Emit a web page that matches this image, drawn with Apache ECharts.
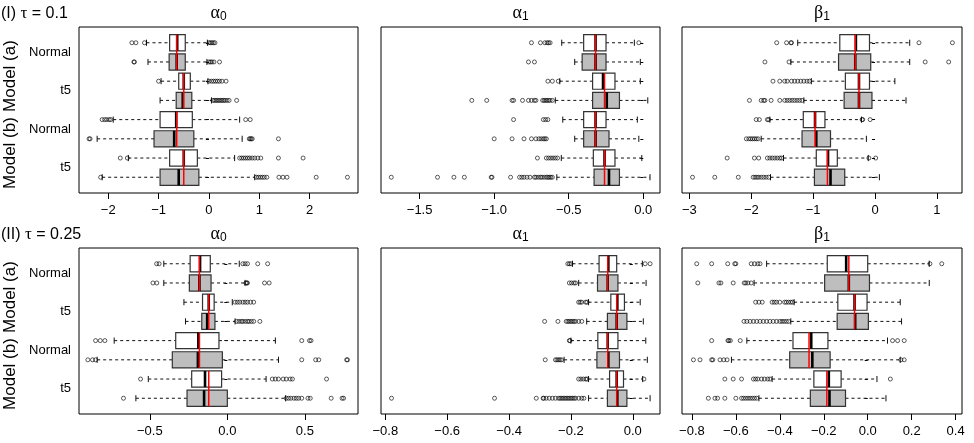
<!DOCTYPE html>
<html><head><meta charset="utf-8">
<script src="https://cdn.jsdelivr.net/npm/echarts@6/dist/echarts.min.js"></script>
<style>html,body{margin:0;padding:0;background:#fff}#c{width:974px;height:443px}</style>
</head><body><div id="c"></div>
<script>
// ---------- DATA ----------
// each box: [lower whisker, Q1, median, Q3, upper whisker]; rows 1..8 top to bottom
const rowLabels = ['Normal', 't5', 'Normal', 't5'];
const modelLabels = ['Model (a)', 'Model (b)'];
const tauLabels = ['(I) ', '(II) '];
const tauValues = [' = 0.1', ' = 0.25'];
const paramSymbols = ['α', 'α', 'β'];
const paramSubs = ['0', '1', '1'];

// tau = 0.1, alpha0
const a0t1Box = [[-1.24,-0.78,-0.63,-0.47,-0.03],[-1.21,-0.79,-0.64,-0.47,-0.04],[-0.95,-0.60,-0.50,-0.37,-0.02],[-0.97,-0.65,-0.52,-0.34,0.05],
  [-1.90,-0.97,-0.65,-0.33,0.61],[-2.22,-1.09,-0.69,-0.30,0.66],[-1.60,-0.78,-0.50,-0.23,0.51],[-2.12,-0.97,-0.60,-0.20,0.91]];
const a0t1Out = [[-1.53,-1.45,-1.28,0.0,0.03,0.06,0.09,0.12],[-1.49,-1.48,0.0,0.03,0.06,0.10,0.21],[-1.0,0.0,0.05,0.09,0.13,0.17,0.21,0.26,0.34],
  [0.08,0.11,0.14,0.17,0.2,0.23,0.26,0.29,0.32,0.36,0.40,0.55],[-2.12,-2.07,-2.03,-1.98,-1.95,0.73,0.82],[-2.38,-2.36,0.80,0.82,0.84,0.86,1.38],
  [-1.76,-1.62,0.61,0.65,0.69,0.73,0.77,0.81,0.86,0.91,0.97,1.03,1.38,1.87],[-2.15,0.94,0.98,1.02,1.06,1.10,1.15,1.39,1.47,1.55,2.13,2.75]];
const a0t1True = [-0.64,-0.50,-0.64,-0.50];
const a0t1Ticks = [-2,-1,0,1,2];

// tau = 0.1, alpha1
const a1t1Box = [[-0.547,-0.40,-0.32,-0.25,-0.06],[-0.46,-0.41,-0.32,-0.25,-0.02],[-0.56,-0.34,-0.27,-0.19,-0.02],[-0.59,-0.34,-0.245,-0.16,0.03],
  [-0.54,-0.40,-0.32,-0.25,-0.04],[-0.46,-0.40,-0.32,-0.23,-0.03],[-0.55,-0.335,-0.26,-0.19,-0.01],[-0.58,-0.33,-0.23,-0.16,0.045]];
const a1t1Out = [[-0.75,-0.69,-0.66,-0.645,-0.635,-0.625,-0.03],[-0.77,-0.73],[-0.64,-0.61,-0.57],
  [-1.15,-1.05,-0.88,-0.87,-0.81,-0.77,-0.75,-0.73,-0.72,-0.675,-0.665,-0.655,-0.645,-0.635,-0.625,-0.61],[-0.87,-0.67,-0.655,-0.64],
  [-1.0,-0.88,-0.80,-0.75,-0.72,-0.70,-0.685,-0.67,-0.66,-0.65],[-0.71,-0.65,-0.635,-0.62,-0.605,-0.59,-0.575],
  [-1.69,-1.38,-1.27,-1.20,-1.02,-1.015,-0.89,-0.83,-0.815,-0.80,-0.78,-0.76,-0.73,-0.72,-0.705,-0.69,-0.68,-0.665,-0.65,-0.64,-0.63,-0.62,-0.61]];
const a1t1True = [-0.32,-0.26,-0.32,-0.26];
const a1t1Ticks = [-1.5,-1.0,-0.5,0.0];

// tau = 0.1, beta1
const b1t1Box = [[-1.25,-0.57,-0.31,-0.09,0.56],[-1.36,-0.59,-0.32,-0.07,0.56],[-1.03,-0.48,-0.26,-0.09,0.32],[-1.15,-0.50,-0.26,-0.05,0.50],
  [-1.70,-1.16,-0.97,-0.81,-0.22],[-1.84,-1.18,-0.95,-0.72,-0.14],[-1.48,-0.95,-0.76,-0.61,-0.11],[-1.69,-0.98,-0.72,-0.49,0.07]];
const b1t1Out = [[-1.59,-1.43,-1.36,-1.35,0.71,1.25],[-1.78,-1.39,0.81,1.19],[-1.65,-1.54,-1.46,-1.42,-1.35,-1.30,-1.25,-1.20,-1.15,-1.10,-1.06],
  [-2.03,-1.84,-1.80,-1.78,-1.68,-1.54,-1.46,-1.42,-1.38,-1.34,-1.30,-1.26,-1.22,-1.18],[-1.92,-1.87,-1.74,-1.72,-0.21,-0.20,-0.08],
  [-2.08,-2.04,-2.01,-1.98,-1.95,-1.92,-1.89],[-2.39,-1.95,-1.88,-1.74,-1.70,-1.66,-1.62,-1.58,-1.54,-1.51,-0.10,0.01],
  [-2.95,-2.59,-2.21,-1.97,-1.94,-1.91,-1.88,-1.84,-1.80,-1.76,-1.72]];
const b1t1True = [-0.32,-0.26,-0.97,-0.77];
const b1t1Ticks = [-3,-2,-1,0,1];

// tau = 0.25, alpha0
const a0t2Box = [[-0.41,-0.24,-0.176,-0.11,0.077],[-0.41,-0.245,-0.18,-0.105,0.114],[-0.28,-0.16,-0.12,-0.085,0.032],[-0.27,-0.165,-0.13,-0.08,0.05],
  [-0.73,-0.333,-0.187,-0.054,0.31],[-0.84,-0.355,-0.19,-0.032,0.33],[-0.51,-0.23,-0.144,-0.037,0.25],[-0.59,-0.26,-0.15,0.0,0.376]];
const a0t2Out = [[-0.456,-0.44,0.10,0.115,0.13,0.196,0.26],[-0.48,-0.455,0.12,0.125,0.13,0.24,0.27],[0.05,0.065,0.08,0.10,0.115,0.13,0.15,0.17],
  [0.06,0.075,0.09,0.10,0.115,0.13,0.14,0.155,0.17,0.21],[-0.85,-0.82,-0.79,0.48,0.53,0.54],[-0.90,-0.87,-0.85,0.48,0.57,0.59,0.77,0.775],
  [-0.56,0.29,0.31,0.33,0.36,0.38,0.405,0.42,0.64],[-0.67,0.38,0.395,0.41,0.43,0.445,0.46,0.48,0.52,0.535,0.67,0.74,0.75]];
const a0t2True = [-0.18,-0.12,-0.18,-0.12];
const a0t2Ticks = [-0.5,0.0,0.5];

// tau = 0.25, alpha1
const a1t2Box = [[-0.195,-0.109,-0.079,-0.052,0.031],[-0.175,-0.114,-0.081,-0.048,0.043],[-0.143,-0.071,-0.05,-0.027,0.024],[-0.149,-0.082,-0.052,-0.019,0.034],
  [-0.20,-0.113,-0.081,-0.048,0.042],[-0.222,-0.116,-0.079,-0.043,0.047],[-0.143,-0.075,-0.052,-0.03,0.032],[-0.143,-0.082,-0.05,-0.019,0.056]];
const a1t2Out = [[-0.21,-0.205,-0.20,0.04,0.056],[-0.205,-0.198,-0.19,-0.185],[-0.175,-0.17,-0.165,-0.152,-0.148],
  [-0.285,-0.242,-0.215,-0.21,-0.205,-0.20,-0.195,-0.19,-0.185,-0.175,-0.165],[-0.205,-0.203],[-0.283,-0.25,-0.245,-0.24,-0.235,-0.23],
  [-0.175,-0.168,-0.16,-0.152,-0.148,0.036],
  [-0.78,-0.447,-0.312,-0.29,-0.288,-0.28,-0.27,-0.26,-0.25,-0.24,-0.235,-0.23,-0.225,-0.22,-0.215,-0.21,-0.205,-0.2,-0.195,-0.19,-0.185,-0.175,-0.165,-0.158]];
const a1t2True = [-0.081,-0.052,-0.081,-0.052];
const a1t2Ticks = [-0.8,-0.6,-0.4,-0.2,0.0];

// tau = 0.25, beta1
const b1t2Box = [[-0.46,-0.184,-0.098,0.0,0.28],[-0.517,-0.196,-0.086,0.008,0.28],[-0.335,-0.136,-0.06,-0.003,0.148],[-0.35,-0.139,-0.057,0.003,0.154],
  [-0.55,-0.34,-0.257,-0.181,0.09],[-0.62,-0.355,-0.252,-0.171,0.148],[-0.435,-0.245,-0.177,-0.121,0.042],[-0.495,-0.261,-0.174,-0.101,0.083]];
const b1t2Out = [[-0.778,-0.71,-0.637,-0.605,-0.60,-0.53,-0.515,-0.50,-0.49,0.283,0.337],[-0.773,-0.677,-0.668,-0.612,-0.562,-0.555,-0.545,-0.53],
  [-0.51,-0.495,-0.48,-0.435,-0.425,-0.415,-0.40,-0.378,-0.37,-0.36,-0.35,-0.342],
  [-0.563,-0.55,-0.535,-0.52,-0.505,-0.49,-0.475,-0.46,-0.445,-0.43,-0.415,-0.40,-0.39,-0.38,-0.37,-0.36],
  [-0.71,-0.636,-0.632,-0.625,-0.58,0.113,0.136,0.166],[-0.793,-0.763,-0.71,-0.705,-0.672,-0.655,-0.64,0.151,0.166],
  [-0.65,-0.612,-0.574,-0.52,-0.51,-0.50,-0.483,-0.47,-0.455,-0.445,0.103],
  [-0.725,-0.695,-0.683,-0.65,-0.60,-0.574,-0.565,-0.555,-0.545,-0.535,-0.525,-0.515,-0.505]];
const b1t2True = [-0.086,-0.06,-0.267,-0.186];
const b1t2Ticks = [-0.8,-0.6,-0.4,-0.2,0.0,0.2,0.4];

// axis ranges (R default: data range + 4%)
const xRanges = [[-2.58,2.96],[-1.759,0.112],[-3.12,1.405],[-0.957,0.843],[-0.814,0.088],[-0.845,0.429]];

// ---------- BUILD ----------
const panelBoxes = [a0t1Box, a1t1Box, b1t1Box, a0t2Box, a1t2Box, b1t2Box];
const panelOut = [a0t1Out, a1t1Out, b1t1Out, a0t2Out, a1t2Out, b1t2Out];
const panelTrue = [a0t1True, a1t1True, b1t1True, a0t2True, a1t2True, b1t2True];
const panelTicks = [a0t1Ticks, a1t1Ticks, b1t1Ticks, a0t2Ticks, a1t2Ticks, b1t2Ticks];
const panelDec = [0, 1, 0, 1, 1, 1];

const colLeft = [79, 381, 682];
const colWidth = [279, 279, 280];
const rowTop = [27, 248];
const plotH = 166;
const BOX_HALF = 0.42, STAPLE_HALF = 0.16;
const FONT = '"Liberation Sans", Arial, Helvetica, sans-serif';
const SERIF = '"Liberation Serif", "DejaVu Serif", serif';

function boxRender(params, api) {
  const r = api.value(0);
  const v = [1,2,3,4,5].map(i => api.value(i));
  const px = v.map(x => api.coord([x, r])[0]);
  const yc = api.coord([v[0], r])[1];
  const hh = Math.abs(api.size([0, BOX_HALF])[1]);
  const sh = Math.abs(api.size([0, STAPLE_HALF])[1]);
  const fill = (r % 2 === 0) ? '#bebebe' : '#ffffff';
  const dash = {stroke: '#111', lineWidth: 1, lineDash: [3, 3]};
  const solid = {stroke: '#111', lineWidth: 1};
  return {type: 'group', children: [
    {type: 'line', shape: {x1: px[0], y1: yc, x2: px[1], y2: yc}, style: dash},
    {type: 'line', shape: {x1: px[3], y1: yc, x2: px[4], y2: yc}, style: dash},
    {type: 'line', shape: {x1: px[0], y1: yc - sh, x2: px[0], y2: yc + sh}, style: solid},
    {type: 'line', shape: {x1: px[4], y1: yc - sh, x2: px[4], y2: yc + sh}, style: solid},
    {type: 'rect', shape: {x: px[1], y: yc - hh, width: px[3] - px[1], height: 2 * hh}, style: {fill: fill, stroke: '#333', lineWidth: 1.2}},
    {type: 'line', shape: {x1: px[2], y1: yc - hh, x2: px[2], y2: yc + hh}, style: {stroke: '#000', lineWidth: 2.6}}
  ]};
}
function trueRender(params, api) {
  const t = api.value(0), k = api.value(1);
  const x = api.coord([t, 2 * k + 1])[0];
  const y1 = api.coord([t, 2 * k + 1 - BOX_HALF])[1];
  const y2 = api.coord([t, 2 * k + 2 + BOX_HALF])[1];
  return {type: 'line', shape: {x1: x, y1: y1, x2: x, y2: y2}, style: {stroke: '#ff0000', lineWidth: 1.5}};
}

const grids = [], xAxes = [], yAxes = [], series = [], graphics = [];
for (let p = 0; p < 6; p++) {
  const col = p % 3, row = Math.floor(p / 3);
  grids.push({left: colLeft[col], top: rowTop[row], width: colWidth[col], height: plotH,
    show: true, borderColor: '#000', borderWidth: 1, backgroundColor: 'transparent'});
  const dec = panelDec[p];
  xAxes.push({type: 'value', gridIndex: p, min: xRanges[p][0], max: xRanges[p][1],
    axisLine: {show: false}, splitLine: {show: false},
    axisTick: {show: true, length: 6, customValues: panelTicks[p], lineStyle: {color: '#000', width: 1}},
    axisLabel: {customValues: panelTicks[p], margin: 11, fontSize: 13, color: '#000', fontFamily: FONT,
      formatter: v => Number(v).toFixed(dec).replace('-', '\u2212')}});
  yAxes.push({type: 'value', gridIndex: p, inverse: true, min: 0.5 - 0.32, max: 8.5 + 0.32,
    axisLine: {show: false}, splitLine: {show: false},
    axisTick: {show: true, length: 3, customValues: [1,2,3,4,5,6,7,8], lineStyle: {color: '#000', width: 1}},
    axisLabel: {show: col === 0, customValues: [1.5, 3.5, 5.5, 7.5], margin: 8, fontSize: 13, color: '#000', fontFamily: FONT,
      formatter: v => rowLabels[Math.round((v - 1.5) / 2)]}});
  series.push({type: 'custom', xAxisIndex: p, yAxisIndex: p, renderItem: boxRender, z: 2,
    encode: {x: [1,2,3,4,5], y: 0},
    data: panelBoxes[p].map((b, i) => [i + 1].concat(b))});
  const pts = [];
  panelOut[p].forEach((arr, i) => arr.forEach(v => pts.push([v, i + 1])));
  series.push({type: 'scatter', xAxisIndex: p, yAxisIndex: p, z: 3, data: pts, symbol: 'circle', symbolSize: 4,
    itemStyle: {color: 'rgba(0,0,0,0)', borderColor: '#000', borderWidth: 0.8}, emphasis: {disabled: true}});
  series.push({type: 'custom', xAxisIndex: p, yAxisIndex: p, renderItem: trueRender, z: 4,
    encode: {x: 0, y: 1},
    data: panelTrue[p].map((t, k) => [t, k])});
  // panel title (Greek symbol with subscript)
  graphics.push({type: 'text', x: colLeft[col] + colWidth[col] / 2, y: rowTop[row] - 14, silent: true,
    style: {text: '{g|' + paramSymbols[col] + '}{s|' + paramSubs[col] + '}', align: 'center', verticalAlign: 'middle',
      rich: {g: {fontSize: 18, fontFamily: SERIF, fill: '#000'}, s: {fontSize: 12, fontFamily: FONT, fill: '#000', padding: [8, 0, 0, 0]}}}});
}
for (let row = 0; row < 2; row++) {
  graphics.push({type: 'text', x: 1, y: rowTop[row] - 13, silent: true,
    style: {text: '{n|' + tauLabels[row] + '}{t|τ}{n|' + tauValues[row] + '}', align: 'left', verticalAlign: 'middle',
      rich: {n: {fontSize: 16, fontFamily: FONT, fill: '#000'}, t: {fontSize: 17, fontFamily: SERIF, fill: '#000'}}}});
  for (let m = 0; m < 2; m++) {
    graphics.push({type: 'text', x: 10, y: rowTop[row] + 49 + m * 77, rotation: Math.PI / 2, silent: true,
      style: {text: modelLabels[m], align: 'center', verticalAlign: 'middle', fontSize: 17, fontFamily: FONT, fill: '#000'}});
  }
}

const chart = echarts.init(document.getElementById('c'));
chart.setOption({animation: false, backgroundColor: '#fff',
  grid: grids, xAxis: xAxes, yAxis: yAxes, series: series, graphic: graphics});
</script></body></html>
